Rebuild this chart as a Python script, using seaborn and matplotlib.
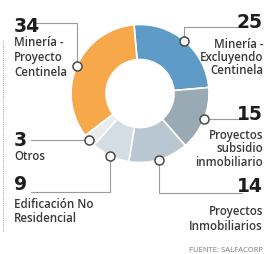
import numpy as np
import matplotlib
matplotlib.use("Agg")
import matplotlib.pyplot as plt
import seaborn as sns

# data
categories = ["Minería -\nExcluyendo\nCentinela", "Proyectos\nsubsidio\ninmobiliario",
              "Proyectos\nInmobiliarios", "Edificación No\nResidencial", "Otros",
              "Minería -\nProyecto\nCentinela"]
values = [25, 15, 14, 9, 3, 34]
colors = ["#5e9bc6", "#99aab4", "#b8c7d1", "#d4dde4", "#e9ecee", "#f6a84b"]
source = "FUENTE: SALFACORP"

W, H = 265, 254
CX, CY, R, HOLE = 140, 93.5, 69, 34
START = 95

# label layout in pixel coords (y down): number pos, text x, first line y, step, align, elbow
layout = [
    dict(num=(263, 22), tx=263, ty=44, step=13.5, ha="right", elbow="v", ey=27, ex=244),
    dict(num=(263, 115), tx=263, ty=135, step=14, ha="right", elbow="h", ey=None, ex=244),
    dict(num=(263, 187), tx=263, ty=212, step=15, ha="right", elbow="v", ey=193, ex=242),
    dict(num=(14, 185), tx=14, ty=205, step=14, ha="left", elbow="v", ey=192, ex=31),
    dict(num=(14, 140), tx=14, ty=157, step=14, ha="left", elbow="h", ey=None, ex=31),
    dict(num=(14, 26), tx=14, ty=42, step=15, ha="left", elbow="v", ey=23, ex=36),
]


def Y(y):
    return H - y


def main():
    sns.set_theme(style="white")
    plt.rcParams["font.family"] = ["Open Sans", "DejaVu Sans"]

    fig = plt.figure(figsize=(W / 100, H / 100), dpi=100)
    ax = fig.add_axes([0, 0, 1, 1])

    ax.pie(values, colors=colors, startangle=START, counterclock=False,
           center=(CX, Y(CY)), radius=R, frame=True,
           wedgeprops=dict(width=R - HOLE, edgecolor="white", linewidth=1.2))
    ax.set_xlim(0, W)
    ax.set_ylim(0, H)
    ax.axis("off")

    total = sum(values)
    angle = START
    for v, cat, lay in zip(values, categories, layout):
        span = 360 * v / total
        mid = np.deg2rad(angle - span / 2)
        angle -= span
        px = CX + R * np.cos(mid)
        py = CY - R * np.sin(mid)

        if lay["elbow"] == "v":
            xs = [px, px, lay["ex"]]
            ys = [py, lay["ey"], lay["ey"]]
        else:
            xs = [px, lay["ex"]]
            ys = [py, py]
        ax.plot(xs, [Y(y) for y in ys], color="#9a9a9a", lw=0.8, zorder=3)
        ax.plot(px, Y(py), marker="o", ms=6.5, mfc="white", mec="#4a4a4a", mew=1.1, zorder=4)

        nx, ny = lay["num"]
        ax.text(nx, Y(ny), str(v), ha=lay["ha"], va="center", fontsize=13.5,
                fontweight="bold", family="Liberation Sans Narrow", color="#1e1e1e")
        for i, line in enumerate(cat.split("\n")):
            ax.text(lay["tx"], Y(lay["ty"] + i * lay["step"]), line, ha=lay["ha"], va="center",
                    fontsize=8.3, fontweight="semibold", color="#3a3a3a")

    ax.plot([2.5, 2.5], [Y(40), Y(232)], color="#9a9a9a", lw=0.7, ls=(0, (1, 1.2)))
    ax.text(263, Y(250), source, ha="right", va="center", fontsize=5.5, color="#7a7a7a")

    fig.savefig("out.png", dpi=100)


if __name__ == "__main__":
    main()
